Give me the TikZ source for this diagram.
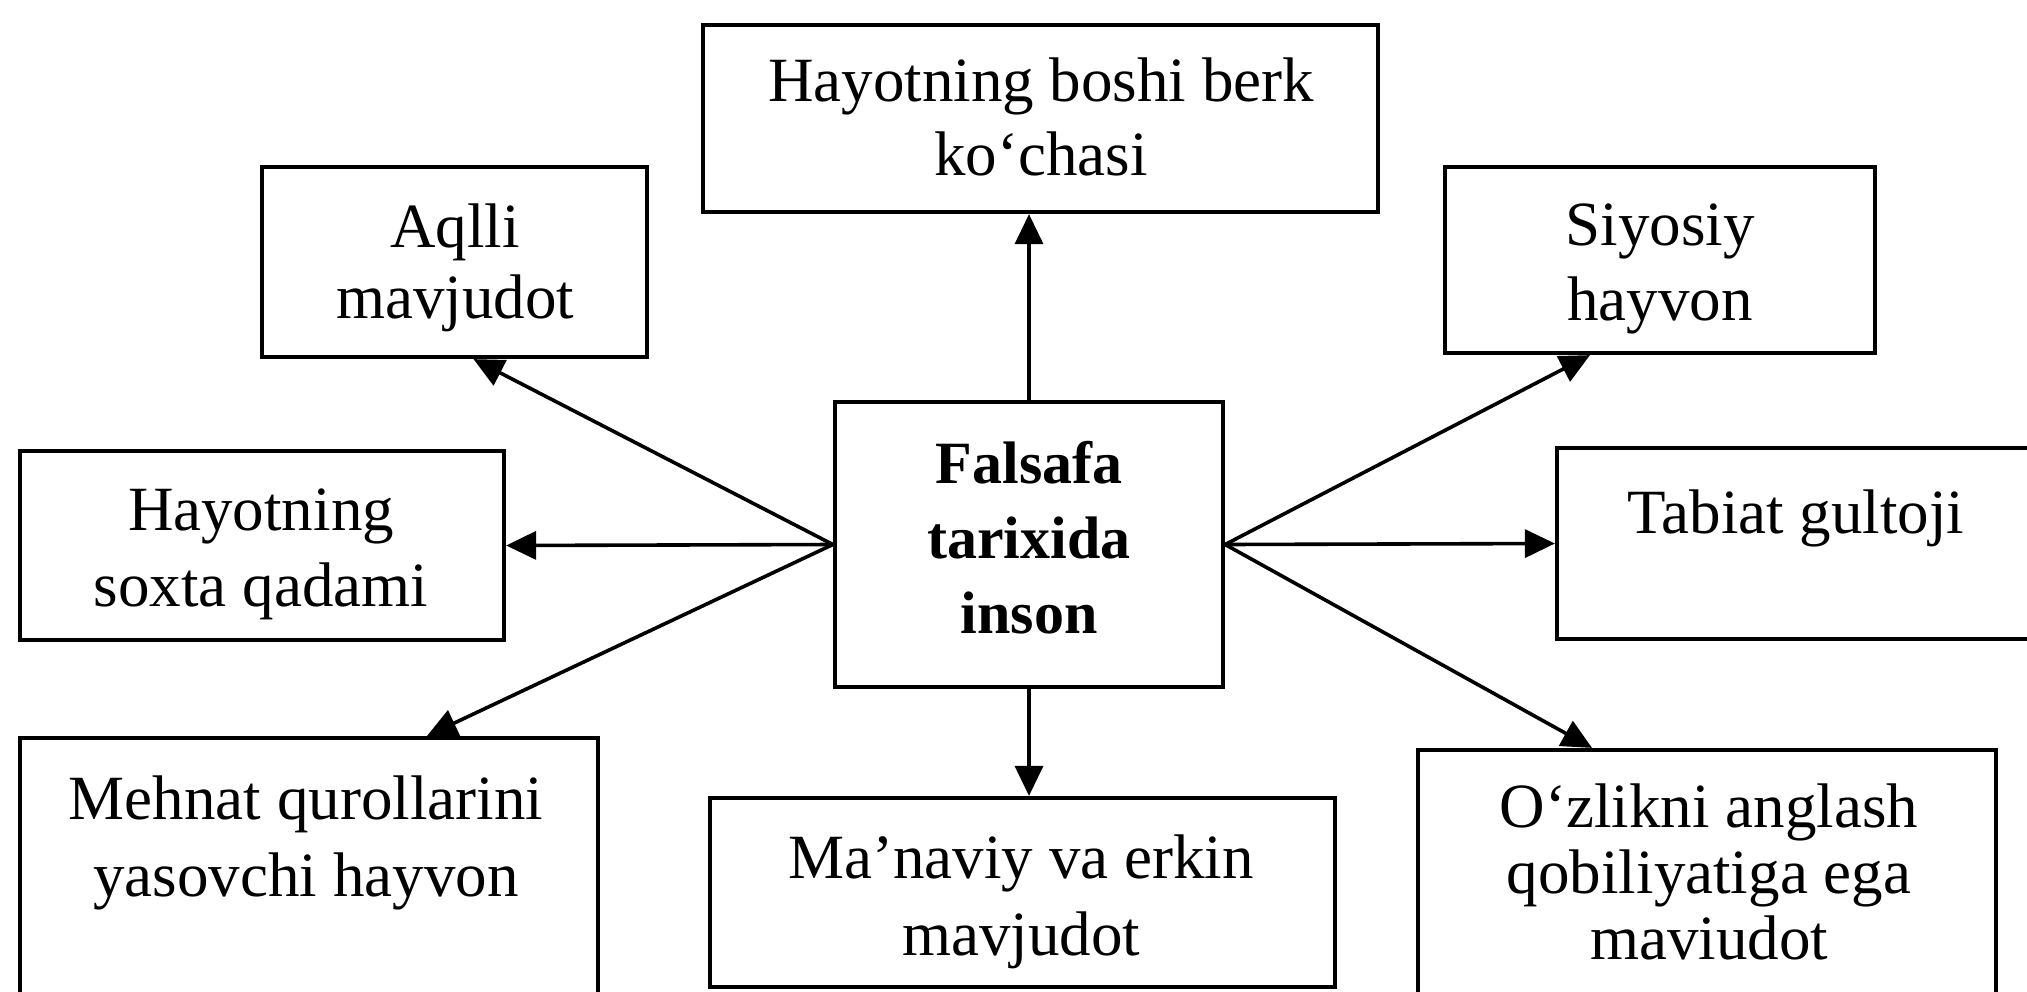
\documentclass[tikz,border=0pt]{standalone}
\usepackage{fontspec}
\setmainfont{Liberation Serif}
\usetikzlibrary{arrows.meta}
\tikzset{
 box/.style 2 args={draw, line width=2.1pt, inner sep=0pt, minimum width=#1*0.5pt, minimum height=#2*0.5pt},
 txt/.style={align=center, inner sep=0pt, anchor=north, font=\fontsize{31.5pt}{#1}\selectfont},
 conn/.style={line width=1.8pt, -{Triangle[length=15pt,width=14pt]}},
}
\begin{document}
\begin{tikzpicture}[x=0.5pt, y={(0pt,-0.5pt)}]
\useasboundingbox (0,0) rectangle (2027,991);
\clip (0,0) rectangle (2027,991);
\fill[white] (0,0) rectangle (2027,991);
% boxes
\node[box={675}{187}] (top) at (1040.5,118.5) {};
\node[box={385}{190}] (aq) at (454.5,262) {};
\node[box={430}{186}] (siy) at (1660,260) {};
\node[box={484}{189}] (sox) at (262,545.5) {};
\node[box={388}{285}] (c) at (1029,544.5) {};
\node[box={483}{191}] (tab) at (1798.5,543.5) {};
\node[box={578}{272}] (meh) at (309,874) {};
\node[box={625}{189}] (man) at (1022.5,892.5) {};
\node[box={578}{260}] (oz) at (1707,880) {};
% texts
\node[txt=37pt] (top-t) at (1041,49) {\strut Hayotning boshi berk\\\strut ko‘chasi};
\node[txt=35.5pt] (aq-t) at (455,197.3) {\strut Aqlli\\\strut mavjudot};
\node[txt=37.5pt] (siy-t) at (1660,192.5) {\strut Siyosiy\\\strut hayvon};
\node[txt=38pt] (sox-t) at (261,476.8) {\strut Hayotning\\\strut soxta qadami};
\node[txt=37.5pt, font=\fontsize{30pt}{37.5pt}\selectfont\bfseries] (c-t) at (1029,430.5) {\strut Falsafa\\\strut tarixida\\\strut inson};
\node[txt=37.5pt] (tab-t) at (1796,480.5) {\strut Tabiat gultoji};
\node[txt=38.5pt] (meh-t) at (306,765.1) {\strut Mehnat qurollarini\\\strut yasovchi hayvon};
\node[txt=38.5pt] (man-t) at (1021,824.1) {\strut Ma’naviy va erkin\\\strut mavjudot};
\node[txt=33pt] (oz-t) at (1709,780.8) {\strut O‘zlikni anglash\\\strut qobiliyatiga ega\\\strut maviudot};
% connectors
\draw[conn] (c.north) -- (c.north |- top.south);
\draw[conn] (c.south) -- (c.south |- man.north);
\draw[conn] (c.west) -- ([xshift=9.5pt]aq.south);
\draw[conn] (c.west) -- (sox.east);
\draw[conn] (c.west) -- ([xshift=59pt]meh.north);
\draw[conn] (c.east) -- ([xshift=-35pt]siy.south);
\draw[conn] (c.east) -- (tab.west);
\draw[conn] (c.east) -- ([xshift=-57.5pt]oz.north);
\end{tikzpicture}
\end{document}
